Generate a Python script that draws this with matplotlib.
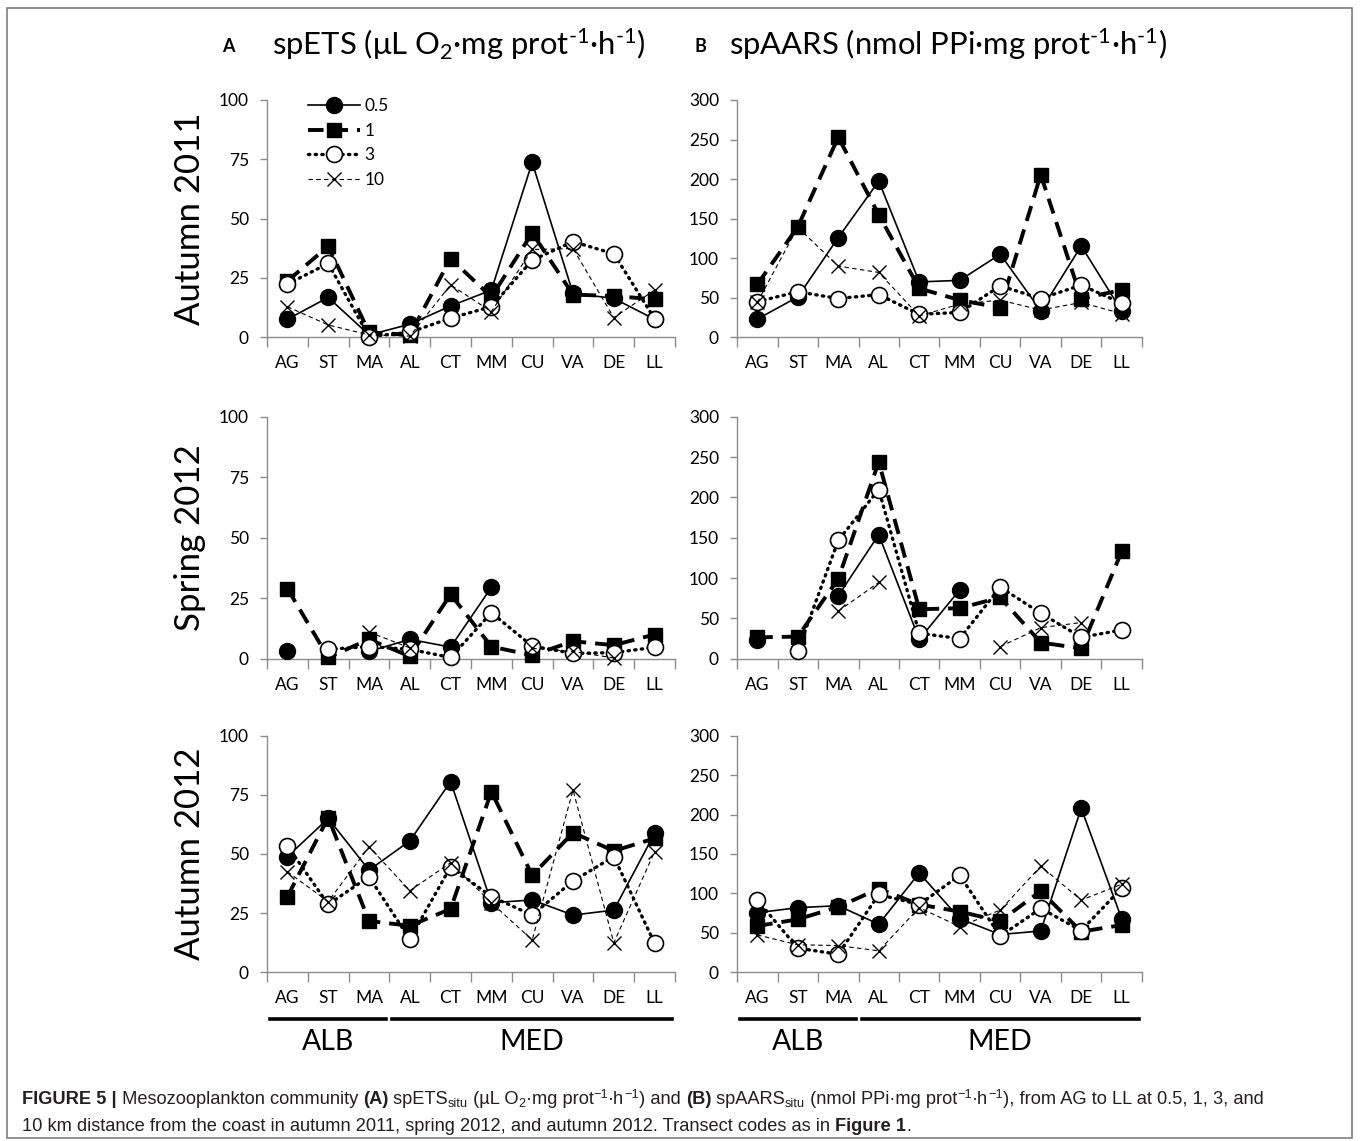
import matplotlib
matplotlib.use('Agg')
import matplotlib.pyplot as plt
import matplotlib.patches as mpatches
from matplotlib.lines import Line2D
import numpy as np

nan = np.nan

sites = ['AG', 'ST', 'MA', 'AL', 'CT', 'MM', 'CU', 'VA', 'DE', 'LL']
series_labels = ['0.5', '1', '3', '10']
row_labels = ['Autumn 2011', 'Spring 2012', 'Autumn 2012']
ets_ticks = [0, 25, 50, 75, 100]
aars_ticks = [0, 50, 100, 150, 200, 250, 300]

# spETS (A)
ets_aut11_05 = [7.6, 16.8, 1.0, 5.5, 13.2, 19.9, 73.7, 18.5, 16.4, 7.6]
ets_aut11_1 = [23.7, 38.4, 2.1, 1.0, 33.2, 17.0, 44.0, 18.0, 17.4, 16.0]
ets_aut11_3 = [22.4, 31.1, 0.3, 2.1, 8.1, 12.9, 32.5, 40.3, 35.2, 7.8]
ets_aut11_10 = [12.9, 5.2, 1.0, 0.5, 22.1, 10.8, 37.0, 37.4, 8.3, 19.9]

ets_spr12_05 = [3.3, nan, 3.0, 8.0, 4.8, 29.5, nan, nan, nan, nan]
ets_spr12_1 = [29.0, 0.5, 8.0, 1.0, 26.6, 5.0, 1.4, 7.2, 5.6, 10.0]
ets_spr12_3 = [nan, 3.9, 5.0, 3.9, 0.5, 19.0, 5.2, 2.2, 2.5, 4.7]
ets_spr12_10 = [nan, nan, 11.0, 4.5, nan, nan, 4.3, 3.0, 0.3, nan]

ets_aut12_05 = [48.9, 65.0, 43.2, 55.5, 80.6, 29.4, 30.6, 24.2, 26.3, 58.7]
ets_aut12_1 = [32.0, 65.4, 21.7, 19.7, 26.8, 76.3, 41.0, 59.0, 51.3, 56.6]
ets_aut12_3 = [53.4, 28.7, 40.4, 14.0, 44.6, 32.0, 24.2, 38.6, 48.9, 12.3]
ets_aut12_10 = [42.5, 29.9, 53.1, 34.5, 46.3, 29.4, 13.7, 77.0, 12.5, 51.0]

# spAARS (B)
aars_aut11_05 = [23, 51, 126, 197.5, 70, 72, 105, 33.6, 115.5, 33]
aars_aut11_1 = [66.8, 139.5, 253, 155, 61.8, 47, 37.4, 205.5, 49, 59.7]
aars_aut11_3 = [45, 57.6, 49, 54, 29, 31.5, 65, 49, 66, 43]
aars_aut11_10 = [44, 139, 90, 82, 27, 42, 47, 34.5, 44, 30]

aars_spr12_05 = [23, nan, 78, 153.7, 24, 85.4, nan, nan, nan, nan]
aars_spr12_1 = [26.5, 27.4, 99, 244, 61.3, 62.6, 76, 20, 12.8, 133]
aars_spr12_3 = [nan, 9.5, 146.7, 209.7, 31.5, 25, 88.7, 56.4, 26.5, 35.6]
aars_spr12_10 = [nan, nan, 59, 94.5, nan, nan, 15, 38.5, 44.8, nan]

aars_aut12_05 = [75.6, 82, 84.5, 61, 126, 68, 48, 52.5, 208, 67.6]
aars_aut12_1 = [58.8, 67.2, 83, 106, 86, 77, 65, 103, 51.7, 60]
aars_aut12_3 = [91.6, 30.7, 23, 98.7, 86, 123, 46, 81, 53, 107]
aars_aut12_10 = [47.5, 35, 34, 27.3, 82, 58, 79, 134.5, 91.6, 111.8]

ets_rows = [
    [ets_aut11_05, ets_aut11_1, ets_aut11_3, ets_aut11_10],
    [ets_spr12_05, ets_spr12_1, ets_spr12_3, ets_spr12_10],
    [ets_aut12_05, ets_aut12_1, ets_aut12_3, ets_aut12_10],
]
aars_rows = [
    [aars_aut11_05, aars_aut11_1, aars_aut11_3, aars_aut11_10],
    [aars_spr12_05, aars_spr12_1, aars_spr12_3, aars_spr12_10],
    [aars_aut12_05, aars_aut12_1, aars_aut12_3, aars_aut12_10],
]

FONT = 'Lato'
plt.rcParams['font.family'] = [FONT, 'DejaVu Sans']
plt.rcParams['mathtext.fontset'] = 'custom'
plt.rcParams['mathtext.rm'] = FONT
plt.rcParams['mathtext.it'] = FONT + ':italic'
plt.rcParams['mathtext.bf'] = FONT + ':bold'

W, H = 1360, 1141
fig = plt.figure(figsize=(W / 100, H / 100), dpi=100)

AXC = '#8c8c8c'

styles = [
    dict(color='black', lw=1.2, ls='-', marker='o', ms=11.5, mfc='black', mec='black'),
    dict(color='black', lw=2.8, ls=(0, (4, 2.3)), marker='s', ms=10, mfc='black', mec='black'),
    dict(color='black', lw=2.4, ls=(0, (0.4, 1.6)), marker='o', ms=11.5, mfc='white', mec='black', mew=1.2),
    dict(color='black', lw=0.8, ls=(0, (4, 3)), marker='x', ms=10, mfc='black', mec='black', mew=1.0),
]


def px_rect(left, right, top, bottom):
    return [left / W, 1 - bottom / H, (right - left) / W, (bottom - top) / H]


row_px = [(100, 337.3), (416.7, 658.7), (735.6, 972.4)]
colA = (267, 675)
colB = (737, 1142)

x = np.arange(len(sites))


def style_axes(ax, ymax, yticks):
    ax.set_xlim(-0.5, len(sites) - 0.5)
    ax.set_ylim(0, ymax)
    for s in ['top', 'right']:
        ax.spines[s].set_visible(False)
    for s in ['left', 'bottom']:
        ax.spines[s].set_color(AXC)
        ax.spines[s].set_linewidth(1.0)
    ax.set_yticks(yticks)
    ax.set_yticklabels([str(v) for v in yticks])
    ax.set_xticks(x)
    ax.set_xticklabels(sites)
    ax.tick_params(axis='x', which='major', length=0, pad=13, labelsize=12.5)
    ax.set_xticks(np.arange(-0.5, len(sites)), minor=True)
    ax.tick_params(axis='x', which='minor', length=7, color=AXC, width=1.0, direction='out')
    ax.tick_params(axis='y', which='major', length=5, color=AXC, width=1.0, pad=8, labelsize=12.5)
    ax.patch.set_visible(False)


axes = []
for r in range(3):
    top, bot = row_px[r]
    axA = fig.add_axes(px_rect(colA[0], colA[1], top, bot))
    axB = fig.add_axes(px_rect(colB[0], colB[1], top, bot))
    for ax, data, ymax, yt in [(axA, ets_rows[r], 100, ets_ticks), (axB, aars_rows[r], 300, aars_ticks)]:
        style_axes(ax, ymax, yt)
        for i, vals in enumerate(data):
            st = styles[i]
            ax.plot(x, vals, color=st['color'], lw=st['lw'], ls=st['ls'],
                    marker=st['marker'], ms=st['ms'], mfc=st['mfc'], mec=st['mec'],
                    mew=st.get('mew', 1.0), clip_on=False, zorder=3 + i,
                    label=series_labels[i], dash_capstyle='round' if i == 2 else 'butt')
    axes.append((axA, axB))
    yc = 1 - (top + bot) / 2 / H
    fig.text(190 / W, yc, row_labels[r], rotation=90, ha='center', va='center', fontsize=25)

# legend in first panel
handles = []
for i in range(4):
    st = styles[i]
    handles.append(Line2D([0], [0], color=st['color'], lw=st['lw'], ls=st['ls'],
                          marker=st['marker'], ms=st['ms'], mfc=st['mfc'], mec=st['mec'],
                          mew=st.get('mew', 1.0),
                          dash_capstyle='round' if i == 2 else 'butt'))
axes[0][0].legend(handles, series_labels, loc='upper left', bbox_to_anchor=(0.1, 1.008),
                  frameon=False, fontsize=12.5, handlelength=3.0, handletextpad=0.25,
                  labelspacing=0.5, borderpad=0, borderaxespad=0, numpoints=1)

# titles
fig.text(222 / W, 1 - 46 / H, 'A', fontsize=13, weight='bold', ha='left', va='center')
fig.text(272 / W, 1 - 44 / H, r'spETS (μL O$_2$·mg prot$^{\text{-1}}$·h$^{\text{-1}}$)',
         fontsize=22.3, ha='left', va='center')
fig.text(694 / W, 1 - 46 / H, 'B', fontsize=13, weight='bold', ha='left', va='center')
fig.text(729 / W, 1 - 44 / H, r'spAARS (nmol PPi·mg prot$^{\text{-1}}$·h$^{\text{-1}}$)',
         fontsize=22.3, ha='left', va='center')

# ALB / MED bars
groups = [('ALB', 0, 2), ('MED', 3, 9)]
bar_y = 1019
for ax in axes[2]:
    for name, i0, i1 in groups:
        x0 = ax.transData.transform((i0 - 0.5, 0))[0]
        x1 = ax.transData.transform((i1 + 0.5, 0))[0]
        pad = 3
        fig.add_artist(Line2D([(x0 + pad) / W, (x1 - pad) / W], [1 - bar_y / H, 1 - bar_y / H],
                              color='black', lw=2.6, transform=fig.transFigure))
        fig.text((x0 + x1) / 2 / W, 1 - 1042 / H, name, ha='center', va='center', fontsize=20.5)

# outer frame
fig.add_artist(mpatches.Rectangle((7 / W, 1 - 1138 / H), (1352 - 7) / W, (1138 - 8) / H,
                                  transform=fig.transFigure, fill=False, edgecolor='#7f7f7f', lw=1.2))

# caption
CAPF = ['Liberation Sans Narrow', 'Liberation Sans', 'DejaVu Sans']
renderer = fig.canvas.get_renderer()


def draw_line(xpx, ypx, segs, size=13.15):
    xf = xpx / W
    for seg in segs:
        text = seg[0]
        weight = seg[1] if len(seg) > 1 else 'normal'
        scale = seg[2] if len(seg) > 2 else 1.0
        dy = seg[3] if len(seg) > 3 else 0
        t = fig.text(xf, 1 - (ypx - dy) / H, text, fontsize=size * scale, weight=weight,
                     family=CAPF, ha='left', va='baseline', color='#231f20')
        bb = t.get_window_extent(renderer)
        xf += bb.width / W


line1 = [
    ('FIGURE 5 |', 'bold'), (' Mesozooplankton community ',), ('(A)', 'bold'), (' spETS',),
    ('situ', 'normal', 0.7, -3), (' (µL O',), ('2', 'normal', 0.7, -3), ('·mg prot',),
    ('−1', 'normal', 0.7, 6), ('·h',), ('−1', 'normal', 0.7, 6), (') and ',), ('(B)', 'bold'),
    (' spAARS',), ('situ', 'normal', 0.7, -3), (' (nmol PPi·mg prot',), ('−1', 'normal', 0.7, 6),
    ('·h',), ('−1', 'normal', 0.7, 6), ('), from AG to LL at 0.5, 1, 3, and',),
]
line2 = [
    ('10 km distance from the coast in autumn 2011, spring 2012, and autumn 2012. Transect codes as in ',),
    ('Figure 1', 'bold'), ('.',),
]
draw_line(22, 1104, line1)
draw_line(22, 1131, line2)

fig.savefig('out.png', dpi=100)
